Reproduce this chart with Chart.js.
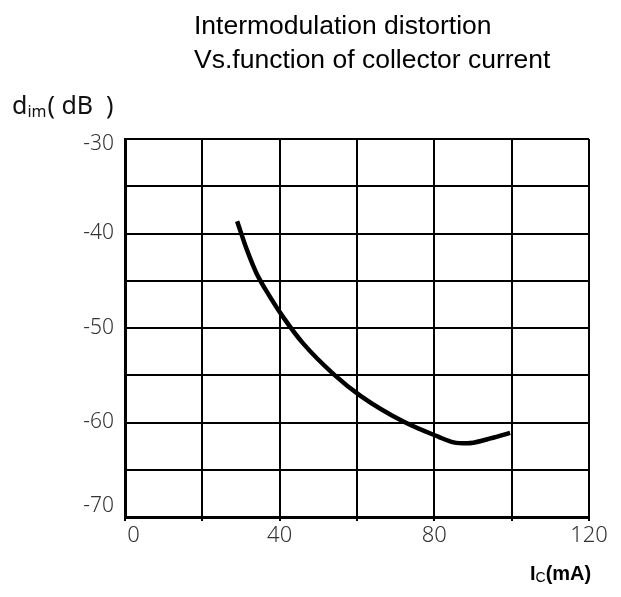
<!DOCTYPE html>
<html>
<head>
<meta charset="utf-8">
<script src="https://cdn.jsdelivr.net/npm/chart.js@4"></script>
<style>
  html, body { margin: 0; padding: 0; background: #fff; }
  #wrap { width: 621px; height: 597px; }
</style>
</head>
<body>
<div id="wrap"><canvas id="myChart" width="621" height="597"></canvas></div>
<script>
const currentMA = [29, 31.5, 34, 37.5, 41, 46, 54, 61, 72, 81, 85, 88.5, 93.5, 99.6];
const distortionDB = [-38.7, -41.7, -44.2, -46.7, -48.9, -51.6, -54.9, -57.2, -59.9, -61.5, -62.1, -62.2, -61.8, -61.1];
const xTickLabels = [0, 40, 80, 120];
const yTickLabels = [-30, -40, -50, -60, -70];
const titleLines = ['Intermodulation distortion', 'Vs.function of collector current'];

const points = currentMA.map((x, i) => ({ x: x, y: distortionDB[i] }));

// titles and subscripted axis names
const textPlugin = {
    id: 'texts',
    afterDraw(chart) {
        const c = chart.ctx;
        c.save();
        c.fillStyle = '#000';
        c.textBaseline = 'alphabetic';
        c.textAlign = 'left';
        c.font = '26.5px "Liberation Sans", Arial, sans-serif';
        c.fillText(titleLines[0], 194, 34);
        c.fillText(titleLines[1], 194, 68);

        // y axis name  d_im( dB )
        c.fillStyle = '#111';
        c.font = '25px "Noto Sans", sans-serif';
        c.fillText('d', 12, 114);
        let w = c.measureText('d').width;
        c.font = '16px "Noto Sans", sans-serif';
        c.fillText('im', 12 + w, 117);
        let w2 = c.measureText('im').width;
        c.font = '25px "Noto Sans", sans-serif';
        c.fillText('( dB  )', 12 + w + w2 + 1, 114);

        // x axis name  I_C(mA)
        c.fillStyle = '#000';
        c.font = 'bold 20px "Liberation Sans", Arial, sans-serif';
        c.fillText('I', 530, 580);
        let w3 = c.measureText('I').width;
        c.font = '14px "Liberation Sans", Arial, sans-serif';
        c.fillText('C', 530 + w3, 582);
        let w4 = c.measureText('C').width;
        c.font = 'bold 20px "Liberation Sans", Arial, sans-serif';
        c.fillText('(mA)', 530 + w3 + w4, 580);
        c.restore();
    }
};

// the end labels of the y axis sit a little inside the frame, as in the original
function yLabel(v) {
    if (!yTickLabels.includes(v)) return '';
    if (v === -30) return ['', String(v)];
    if (v === -70) return [String(v), '', ''];
    return String(v);
}
function xLabel(v) {
    if (!xTickLabels.includes(v)) return '';
    return v === 0 ? '   0' : String(v);
}

new Chart(document.getElementById('myChart'), {
    type: 'scatter',
    data: {
        datasets: [{
            data: points,
            showLine: true,
            borderColor: '#000',
            borderWidth: 4.5,
            pointRadius: 0,
            tension: 0.4,
            cubicInterpolationMode: 'monotone',
            borderCapStyle: 'butt'
        }]
    },
    options: {
        responsive: false,
        animation: false,
        layout: { padding: { top: 139, right: 32, left: 0, bottom: 0 } },
        plugins: {
            legend: { display: false },
            tooltip: { enabled: false }
        },
        scales: {
            x: {
                type: 'linear',
                min: 0,
                max: 120,
                afterFit: (s) => { s.height = 80; },
                border: { color: '#000', width: 3 },
                grid: { color: '#000', lineWidth: 2, tickLength: 4, tickColor: '#000' },
                ticks: {
                    stepSize: 20,
                    autoSkip: false,
                    maxRotation: 0,
                    padding: 2,
                    color: '#333',
                    font: { family: '"Noto Sans", sans-serif', size: 22, weight: 300 },
                    callback: xLabel
                }
            },
            y: {
                min: -70,
                max: -30,
                afterFit: (s) => { s.width = 125; },
                border: { color: '#000', width: 3 },
                grid: { color: '#000', lineWidth: 2, drawTicks: false },
                ticks: {
                    stepSize: 5,
                    autoSkip: false,
                    padding: 11,
                    color: '#333',
                    font: { family: '"Noto Sans", sans-serif', size: 21, weight: 300, lineHeight: 0.5 },
                    callback: yLabel
                }
            }
        }
    },
    plugins: [textPlugin]
});
</script>
</body>
</html>
